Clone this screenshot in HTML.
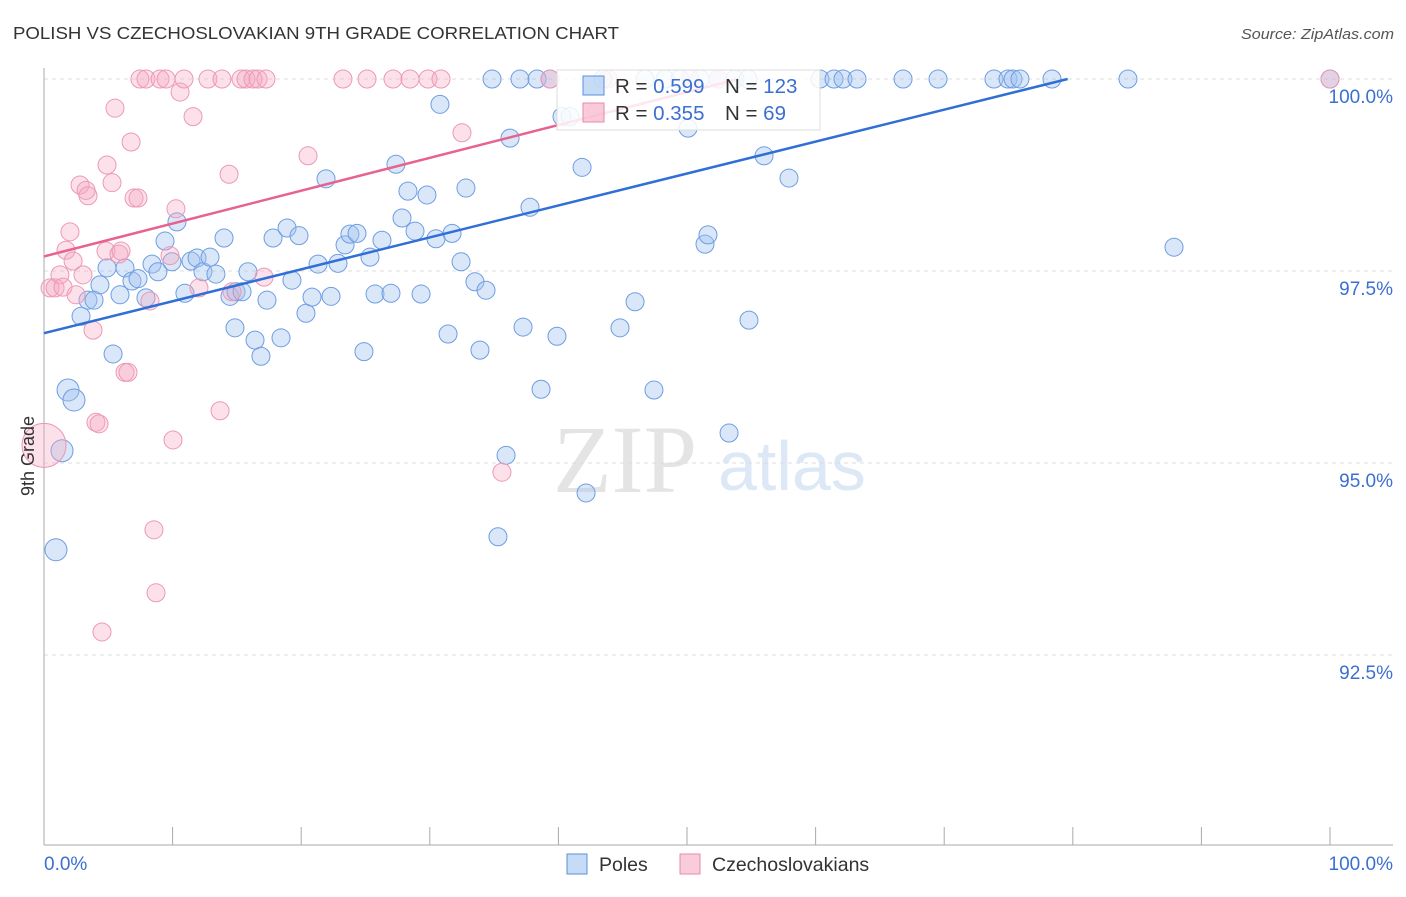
<!DOCTYPE html>
<html><head><meta charset="utf-8"><style>
body{margin:0;background:#fff;font-family:"Liberation Sans",sans-serif}
svg text{font-family:"Liberation Sans",sans-serif}
</style></head><body>
<svg id="chart" width="1406" height="892" viewBox="0 0 1406 892" xmlns="http://www.w3.org/2000/svg">
<text x="13" y="39" font-size="17.5" fill="#333" textLength="606" lengthAdjust="spacingAndGlyphs">POLISH VS CZECHOSLOVAKIAN 9TH GRADE CORRELATION CHART</text>
<text x="1241" y="39" font-size="15" fill="#555" font-style="italic" textLength="153" lengthAdjust="spacingAndGlyphs">Source: ZipAtlas.com</text>
<g>
<text x="553" y="492" font-size="96" fill="#e4e4e4" font-family="Liberation Serif" style="font-family:'Liberation Serif',serif">ZIP</text>
<text x="718" y="490" font-size="70" fill="#dde8f6">atlas</text>
</g>
<g id="grid"></g>
<g id="axes"></g>
<g id="pts"></g>
<g id="lines"></g>
<g>
<rect x="557" y="70" width="263" height="60" fill="rgba(255,255,255,0.85)" stroke="#ddd"/>
<rect x="583" y="76" width="21" height="19" fill="rgba(160,196,240,0.6)" stroke="#5b8fdc"/>
<rect x="583" y="103" width="21" height="19" fill="rgba(245,170,195,0.6)" stroke="#e88aa8"/>
<text x="615" y="93" font-size="20.5" fill="#333">R = <tspan fill="#3b6fd0">0.599</tspan></text>
<text x="725" y="93" font-size="20.5" fill="#333">N = <tspan fill="#3b6fd0">123</tspan></text>
<text x="615" y="120" font-size="20.5" fill="#333">R = <tspan fill="#3b6fd0">0.355</tspan></text>
<text x="725" y="120" font-size="20.5" fill="#333">N = <tspan fill="#3b6fd0"> 69</tspan></text>
</g>
<g>
<rect x="567" y="854" width="20" height="20" fill="rgba(160,196,240,0.6)" stroke="#5b8fdc"/>
<text x="599" y="871" font-size="19.5" fill="#333">Poles</text>
<rect x="680" y="854" width="20" height="20" fill="rgba(245,170,195,0.6)" stroke="#e88aa8"/>
<text x="712" y="871" font-size="19.5" fill="#333">Czechoslovakians</text>
</g>
<text transform="translate(34,456) rotate(-90)" font-size="18" fill="#333" text-anchor="middle">9th Grade</text>
</svg>
<script>
const yTicks=[100,97.5,95,92.5];
const yTickLabels=["100.0%","97.5%","95.0%","92.5%"];
const xEndLabels=["0.0%","100.0%"];
const bx=[1.87,2.33,1.40,0.93,2.88,3.42,3.89,4.35,4.90,5.37,5.91,6.30,6.84,7.31,7.93,8.40,8.86,9.41,9.95,10.34,10.96,11.43,11.90,12.36,12.91,13.37,14.0,14.46,14.93,15.40,14.85,15.86,16.41,16.87,17.34,17.81,18.43,18.90,19.28,19.83,20.37,20.84,21.31,21.93,22.32,22.86,23.41,23.79,24.34,24.88,25.35,25.74,26.28,26.98,27.37,27.84,28.30,28.85,29.32,29.78,30.48,30.79,31.42,31.73,32.43,32.81,33.51,33.90,34.37,34.84,35.93,35.30,36.24,37.01,37.25,37.79,38.34,38.65,39.35,39.89,40.28,40.90,41.84,42.15,43.47,44.79,45.96,46.73,47.43,48.29,49.46,50.08,51.01,51.40,51.63,52.41,53.27,53.73,54.74,54.82,55.99,57.93,60.34,61.43,62.13,63.22,66.80,69.52,73.87,74.96,75.35,75.89,78.38,84.29,87.87,100];
const by=[95.95,95.82,95.16,93.87,96.91,97.12,97.12,97.32,97.54,96.42,97.19,97.54,97.37,97.40,97.15,97.59,97.49,97.89,97.62,98.14,97.21,97.63,97.67,97.49,97.68,97.46,97.93,97.17,97.23,97.23,96.76,97.49,96.60,96.39,97.12,97.93,96.63,98.06,97.38,97.96,96.95,97.16,97.59,98.70,97.17,97.60,97.84,97.98,97.99,96.45,97.68,97.20,97.90,97.21,98.89,98.19,98.54,98.02,97.20,98.49,97.92,99.67,96.68,97.99,97.62,98.58,97.36,96.47,97.25,100,95.10,94.04,99.23,100,96.77,98.33,100,95.96,100,96.65,99.51,99.51,98.85,94.61,100,96.76,97.10,100,95.95,100,100,99.36,100,97.85,97.97,100,95.39,100,100,96.86,99.0,98.71,100,100,100,100,100,100,100,100,100,100,100,100,97.81,100];
const px=[0.47,0.86,1.24,1.48,1.71,2.02,2.26,2.49,2.80,3.03,3.27,3.42,3.81,4.04,4.28,4.51,4.82,4.90,5.29,5.52,5.83,5.99,6.30,6.53,6.77,7.0,7.31,7.46,7.93,8.24,8.55,8.71,9.02,9.49,9.80,10.03,10.26,10.58,10.89,11.59,12.05,12.75,13.69,13.84,14.39,14.62,15.32,15.71,16.25,16.64,17.11,17.26,20.53,23.25,25.12,27.14,28.46,29.86,30.87,32.50,35.61,39.35,42.92,43.86,50.23,52.41,100,0];
const py=[97.28,97.28,97.45,97.29,97.77,98.01,97.63,97.19,98.62,97.45,98.55,98.48,96.73,95.53,95.51,92.80,97.76,98.88,98.65,99.62,97.72,97.76,96.18,96.18,99.18,98.45,98.45,100,100,97.11,94.13,93.31,100,100,97.70,95.30,98.31,99.83,100,99.51,97.28,100,95.68,100,98.76,97.23,100,100,100,100,97.42,100,99.0,100,100,100,100,100,100,99.30,94.88,100,99.57,100,100,100,100,95.23];
const blueLine=[[0,96.69],[79.6,100]];
const pinkLine=[[0,97.69],[54,100]];
const NS="http://www.w3.org/2000/svg";
const X=v=>44+v*12.86, Y=v=>79+(100-v)*76.8;
function mk(tag,attrs,parent){const e=document.createElementNS(NS,tag);for(const k in attrs)e.setAttribute(k,attrs[k]);parent.appendChild(e);return e;}
const grid=document.getElementById('grid'),axes=document.getElementById('axes'),pts=document.getElementById('pts'),lines=document.getElementById('lines');
yTicks.forEach((t,i)=>{
 const l=mk('line',{x1:44,x2:1393,y1:Y(t),y2:Y(t),stroke:'#ddd','stroke-dasharray':'4,4'},grid);
 
 
 const tx=mk('text',{x:1393,y:Y(t)+24,'font-size':19,fill:'#3b6fd0','text-anchor':'end'},axes);
 tx.textContent=yTickLabels[i];
 
 
});
const la=mk('line',{x1:44,x2:44,y1:68,y2:845,stroke:'#aaa'},axes);


const ba=mk('line',{x1:44,x2:1393,y1:845,y2:845,stroke:'#aaa'},axes);


for(let i=0;i<=10;i++){
 const tk=mk('line',{x1:X(i*10),x2:X(i*10),y1:827,y2:845,stroke:'#aaa'},axes);
 
 
}
const xl0=mk('text',{x:44,y:870,'font-size':19,fill:'#3b6fd0'},axes);xl0.textContent=xEndLabels[0];


const xl1=mk('text',{x:1393,y:870,'font-size':19,fill:'#3b6fd0','text-anchor':'end'},axes);xl1.textContent=xEndLabels[1];


bx.forEach((v,i)=>{
 const r=(i<4)?11:9;
 const c=mk('circle',{cx:X(v),cy:Y(by[i]),r:r,fill:'rgba(160,196,240,0.4)',stroke:'#6e9de2','stroke-width':1},pts);
 
 
});
px.forEach((v,i)=>{
 const r=(i===px.length-1)?22:9;
 const c=mk('circle',{cx:X(v),cy:Y(py[i]),r:r,fill:'rgba(245,170,195,0.35)',stroke:'#ec99b5','stroke-width':1},pts);
 
 
});
const bl=mk('line',{x1:X(blueLine[0][0]),y1:Y(blueLine[0][1]),x2:X(blueLine[1][0]),y2:Y(blueLine[1][1]),stroke:'#2f6fd6','stroke-width':2.5},lines);


const pl=mk('line',{x1:X(pinkLine[0][0]),y1:Y(pinkLine[0][1]),x2:X(pinkLine[1][0]),y2:Y(pinkLine[1][1]),stroke:'#e8628f','stroke-width':2.5},lines);


</script>
</body></html>
